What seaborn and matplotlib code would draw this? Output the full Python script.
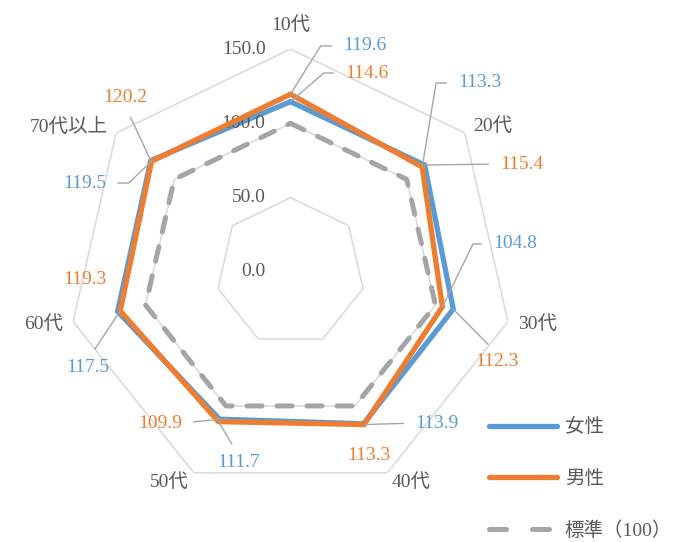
import numpy as np
import pandas as pd
import seaborn as sns
from matplotlib import pyplot as plt

# Chart data
categories = ["10代", "20代", "30代", "40代", "50代", "60代", "70代以上"]
female = [114.6, 115.4, 112.3, 113.3, 109.9, 119.3, 120.2]
male = [119.6, 113.3, 104.8, 113.9, 111.7, 117.5, 119.5]
standard = [100, 100, 100, 100, 100, 100, 100]
radial_ticks = [0, 50, 100, 150]

BLUE = "#5B9BD5"
ORANGE = "#ED7D31"
GRAY = "#A5A5A5"
TEXT = "#595959"
GRID = "#D9D9D9"
LEADER = "#A6A6A6"

sns.set_style("white")
plt.rcParams["font.family"] = ["Liberation Serif", "Noto Sans CJK JP"]
plt.rcParams["font.size"] = 14

# data label placement: offset from the vertex (pixels), alignment, leader style
# (dx, dy, ha, va, relpos, elbow angle / "straight" / None)
male_label_pos = [
    (52.5, 48.2, "left", "center", (0, 0.5), 58),
    (35.8, 84.0, "left", "center", (0, 0.5), 80.6),
    (50.6, 62.7, "left", "center", (0, 0.5), 64),
    (51.0, 1.5, "left", "center", (0, 0.5), "straight"),
    (19.6, -41.3, "center", "center", (0.5, 1), "straight"),
    (-32.2, -57.1, "center", "center", (0.5, 1), "straight"),
    (-45.6, -21.8, "right", "center", (1, 0.5), 43.6),
]
female_label_pos = [
    (54.5, 28.6, "left", "center", (0, 0.5), 40.6),
    (75.4, 1.0, "left", "center", (0, 0.5), "straight"),
    (43.7, -52.8, "center", "center", (0.5, 1), "straight"),
    (4.9, -31.3, "center", "center", (0.5, 0.5), None),
    (-37.6, -3.8, "right", "center", (1, 0.5), "straight"),
    (-32.6, 31.5, "center", "center", (0.5, 0.5), None),
    (-25.3, 62.6, "center", "center", (0.5, 0), "straight"),
]


def closed(values):
    n = len(values)
    theta = np.linspace(0, 2 * np.pi, n, endpoint=False)
    return np.append(theta, 2 * np.pi), np.append(values, values[0])


def add_labels(ax, values, positions, color):
    n = len(values)
    theta = np.linspace(0, 2 * np.pi, n, endpoint=False)
    for t, v, (dx, dy, ha, va, rel, conn) in zip(theta, values, positions):
        arrow = None
        if conn == "straight":
            arrow = dict(arrowstyle="-", color=LEADER, lw=1.0, relpos=rel,
                         shrinkA=6, shrinkB=0, connectionstyle="arc3")
        elif conn is not None:
            arrow = dict(arrowstyle="-", color=LEADER, lw=1.0, relpos=rel,
                         shrinkA=6, shrinkB=0,
                         connectionstyle=f"angle,angleA=0,angleB={conn},rad=0")
        ax.annotate(f"{v:.1f}", xy=(t, v), xytext=(dx, dy),
                    textcoords="offset pixels", ha=ha, va=va, color=color,
                    fontsize=14, arrowprops=arrow, annotation_clip=False,
                    zorder=6)


fig = plt.figure(figsize=(6.8, 5.42), dpi=100)
cx, cy, rad = 290.5 / 680, 1 - 272 / 542, 223
ax = fig.add_axes([cx - rad / 680, cy - rad / 542, 2 * rad / 680, 2 * rad / 542],
                  projection="polar")
ax.set_theta_zero_location("N")
ax.set_theta_direction(-1)
ax.set_ylim(0, 150)
ax.grid(False)
ax.spines["polar"].set_visible(False)
ax.set_xticks([])
ax.set_yticks([])
ax.set_facecolor("none")

# heptagon gridlines
for r in radial_ticks[1:]:
    t, rr = closed([r] * len(categories))
    ax.plot(t, rr, color=GRID, lw=1.1, zorder=1)

t, v = closed(standard)
sns.lineplot(x=t, y=v, sort=False, estimator=None, ax=ax, color=GRAY, lw=3.6,
             linestyle=(0, (3, 3)), dash_capstyle="round", label="標準（100）",
             zorder=2)
t, v = closed(female)
sns.lineplot(x=t, y=v, sort=False, estimator=None, ax=ax, color=BLUE, lw=3.8,
             solid_joinstyle="miter", label="女性", zorder=3)
t, v = closed(male)
sns.lineplot(x=t, y=v, sort=False, estimator=None, ax=ax, color=ORANGE, lw=3.8,
             solid_joinstyle="miter", label="男性", zorder=4)
ax.set_xlabel("")
ax.set_ylabel("")

# data labels (font colours as in the original chart)
add_labels(ax, male, male_label_pos, BLUE)
add_labels(ax, female, female_label_pos, ORANGE)

# radial axis labels
for r in radial_ticks:
    ax.annotate(f"{r:.1f}", xy=(0, r), xytext=(-25, 0), textcoords="offset pixels",
                ha="right", va="center", color=TEXT, fontsize=14,
                annotation_clip=False)

# category labels
theta = np.linspace(0, 2 * np.pi, len(categories), endpoint=False)
for t, name in zip(theta, categories):
    if np.isclose(t, 0):
        ax.text(t, 166, name, ha="center", va="center", color=TEXT, fontsize=14)
    else:
        ha = "left" if t < np.pi else "right"
        ax.text(t, 157, name, ha=ha, va="center", color=TEXT, fontsize=14)

# legend
handles, labels = ax.get_legend_handles_labels()
order = [labels.index("女性"), labels.index("男性"), labels.index("標準（100）")]
leg = ax.legend([handles[i] for i in order], [labels[i] for i in order],
                loc="center left", bbox_to_anchor=(489 / 680, 1 - 479 / 542),
                bbox_transform=fig.transFigure, frameon=False, borderpad=0,
                borderaxespad=0, handlelength=3.5, handletextpad=0.4,
                labelspacing=1.72, fontsize=14)
for text in leg.get_texts():
    text.set_color(TEXT)
for line in leg.get_lines():
    line.set_solid_capstyle("round")
leg.get_lines()[2].set_linestyle((0, (3.4, 5.2)))

fig.savefig("out.png", dpi=100)
